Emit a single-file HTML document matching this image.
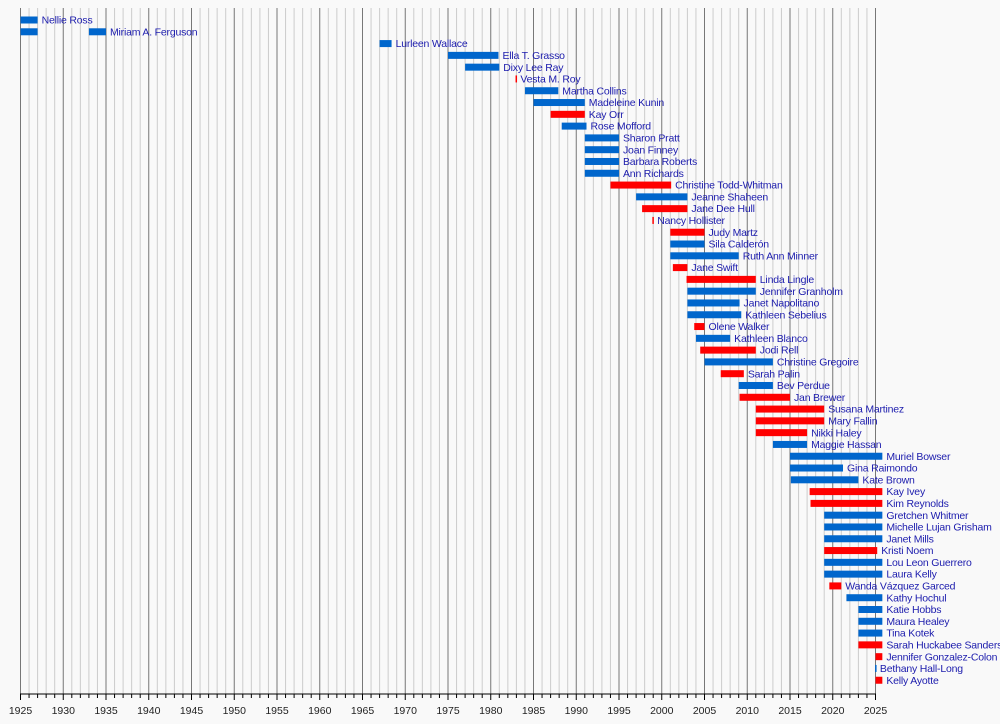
<!DOCTYPE html>
<html><head><meta charset="utf-8"><style>
body{margin:0;background:#f9f9f9;}
svg{display:block;font-family:"Liberation Sans",sans-serif;}
</style></head><body>
<svg id="chart" width="1000" height="724">
<rect width="1000" height="724" fill="#f9f9f9"/>
<g id="grid"></g>
<g id="bars"></g>
<g id="axis"></g>
</svg>
<script>
const names=["Nellie Ross","Miriam A. Ferguson","Lurleen Wallace","Ella T. Grasso","Dixy Lee Ray","Vesta M. Roy","Martha Collins","Madeleine Kunin","Kay Orr","Rose Mofford","Sharon Pratt","Joan Finney","Barbara Roberts","Ann Richards","Christine Todd-Whitman","Jeanne Shaheen","Jane Dee Hull","Nancy Hollister","Judy Martz","Sila Calderón","Ruth Ann Minner","Jane Swift","Linda Lingle","Jennifer Granholm","Janet Napolitano","Kathleen Sebelius","Olene Walker","Kathleen Blanco","Jodi Rell","Christine Gregoire","Sarah Palin","Bev Perdue","Jan Brewer","Susana Martinez","Mary Fallin","Nikki Haley","Maggie Hassan","Muriel Bowser","Gina Raimondo","Kate Brown","Kay Ivey","Kim Reynolds","Gretchen Whitmer","Michelle Lujan Grisham","Janet Mills","Kristi Noem","Lou Leon Guerrero","Laura Kelly","Wanda Vázquez Garced","Kathy Hochul","Katie Hobbs","Maura Healey","Tina Kotek","Sarah Huckabee Sanders","Jennifer Gonzalez-Colon","Bethany Hall-Long","Kelly Ayotte"];
const starts=[1925,1925,1967,1975,1977,1982.9,1984,1985,1987,1988.3,1991,1991,1991,1991,1994,1997,1997.7,1998.9,2001,2001,2001,2001.3,2002.9,2003,2003,2003,2003.8,2004,2004.5,2005,2006.9,2009,2009.1,2011,2011,2011,2013,2015,2015,2015.1,2017.3,2017.4,2019,2019,2019,2019,2019,2019,2019.6,2021.6,2023,2023,2023,2023,2025,2024.95,2025];
const ends=[1927,1927,1968.4,1980.9,1981,1983,1987.9,1991,1991,1991.2,1995,1995,1995,1995,2001.1,2003,2003,1999,2005,2005,2009,2003,2011,2011,2009.1,2009.3,2005,2008,2011,2013,2009.6,2013,2015,2019,2019,2017,2017,2025.8,2021.2,2023,2025.8,2025.8,2025.8,2025.8,2025.8,2025.2,2025.8,2025.8,2021,2025.8,2025.8,2025.8,2025.8,2025.8,2025.8,2025.05,2025.8];
const parties=["D","D","D","D","D","R","D","D","R","D","D","D","D","D","R","D","R","R","R","D","D","R","R","D","D","D","R","D","R","D","R","D","R","R","R","R","D","D","D","D","R","R","D","D","D","R","D","D","R","D","D","D","D","R","R","D","R"];
const extraStarts=[1933]; const extraEnds=[1935]; const extraRows=[1];
const ticks=[1925,1930,1935,1940,1945,1950,1955,1960,1965,1970,1975,1980,1985,1990,1995,2000,2005,2010,2015,2020,2025];
const NS="http://www.w3.org/2000/svg";
const x=y=>20.5+(y-1925)*8.55;
const rowY=i=>20+i*11.79;
function mk(t,a,p){const e=document.createElementNS(NS,t);for(const k in a)e.setAttribute(k,a[k]);p.appendChild(e);return e;}
const grid=document.getElementById('grid'),bars=document.getElementById('bars'),axis=document.getElementById('axis');
for(let yr=1925;yr<=2025;yr++){
  const major=(yr%5===0);
  const l=mk('line',{x1:x(yr),x2:x(yr),y1:8,y2:694,stroke:major?'#777':'#ccc','stroke-width':1},grid);
  
  
  const t=mk('line',{x1:x(yr),x2:x(yr),y1:694,y2:major?700:698,stroke:'#000','stroke-width':1},axis);
  
  
}
const al=mk('line',{x1:20,x2:x(2025)+0.5,y1:694,y2:694,stroke:'#000','stroke-width':1},axis);


ticks.forEach(v=>{const t=mk('text',{x:x(v),y:714,'text-anchor':'middle','font-size':'10.5',fill:'#222'},axis);t.textContent=v;
  
  });
const col=p=>p==='D'?'#0066cc':'#ff0000';
extraRows.forEach((ri,k)=>{
  const y=rowY(ri);
  const r=mk('rect',{x:x(extraStarts[k]),y:y-3.5,width:x(extraEnds[k])-x(extraStarts[k]),height:7,fill:col(parties[ri])},bars);
  
  
});
names.forEach((n,i)=>{
  const y=rowY(i);
  const r=mk('rect',{x:x(starts[i]),y:y-3.5,width:Math.max(1.5,x(ends[i])-x(starts[i])),height:7,fill:col(parties[i])},bars);
  
  
  let e=ends[i];
  extraRows.forEach((ri,k)=>{if(ri===i&&extraEnds[k]>e)e=extraEnds[k];});
  const t=mk('text',{x:x(e)+4,y:y+3.6,'font-size':'10.5',fill:'#1c1cad','letter-spacing':'-0.2'},bars);
  t.textContent=n;
  
  
});
</script>
</body></html>
